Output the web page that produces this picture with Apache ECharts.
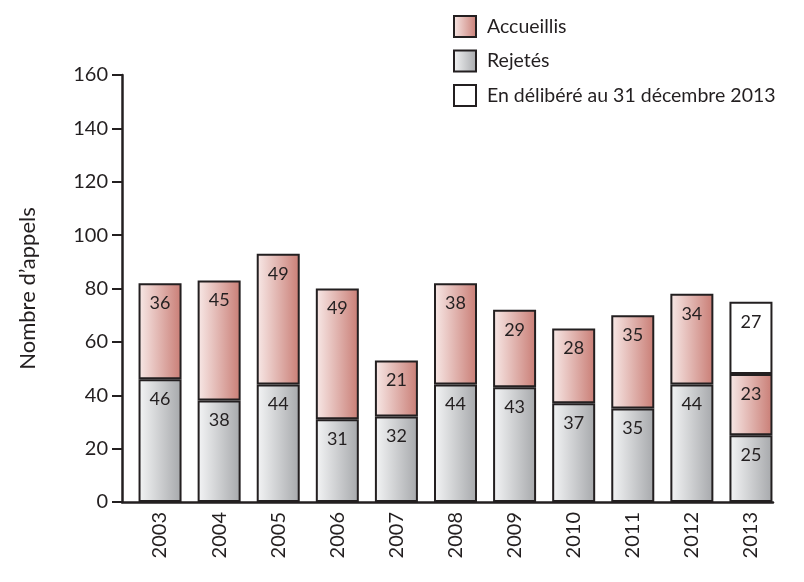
<!DOCTYPE html>
<html>
<head>
<meta charset="utf-8">
<script src="https://cdn.jsdelivr.net/npm/echarts@6/dist/echarts.min.js"></script>
<style>html,body{margin:0;padding:0;background:#fff}#c{width:804px;height:582px}</style>
</head>
<body>
<div id="c"></div>
<script>
const years = ['2003','2004','2005','2006','2007','2008','2009','2010','2011','2012','2013'];
const rejetes = [46, 38, 44, 31, 32, 44, 43, 37, 35, 44, 25];
const accueillis = [36, 45, 49, 49, 21, 38, 29, 28, 35, 34, 23];
const delibere = [null, null, null, null, null, null, null, null, null, null, 27];
const yTicks = { min: 0, max: 160, interval: 20 };

const FONT = 'Lato, "Open Sans", sans-serif';
const INK = '#231f20';
function grad(a, b) {
  return new echarts.graphic.LinearGradient(0, 0, 1, 0, [
    { offset: 0, color: a }, { offset: 1, color: b }
  ]);
}
const label = {
  show: true, position: 'insideTop', distance: 11,
  color: INK, fontSize: 18, fontFamily: FONT
};
const border = { borderColor: INK, borderWidth: 2 };

const chart = echarts.init(document.getElementById('c'), null, { renderer: 'canvas' });
chart.setOption({
  animation: false,
  backgroundColor: '#fff',
  legend: {
    orient: 'vertical', left: 448, top: 10,
    itemWidth: 22, itemHeight: 21, itemGap: 11.5,
    icon: 'rect',
    itemStyle: { borderColor: INK, borderWidth: 2 },
    textStyle: { fontSize: 19.5, color: INK, fontFamily: FONT, padding: [0, 0, 0, 6] },
    data: ['Accueillis', 'Rejetés', 'En délibéré au 31 décembre 2013']
  },
  grid: [
    { left: 130.5, right: 23.5, top: 75, bottom: 80 },
    { left: 122, right: 31, top: 75, bottom: 80 }
  ],
  xAxis: [
    {
      type: 'category', data: years, gridIndex: 0,
      axisLine: { show: false }, axisTick: { show: false },
      axisLabel: { rotate: 90, fontSize: 20, color: INK, fontFamily: FONT, margin: 10 }
    },
    {
      type: 'value', gridIndex: 1, min: 0, max: 1,
      axisLine: { show: true, lineStyle: { color: INK, width: 2.5 } },
      axisTick: { show: false }, axisLabel: { show: false }, splitLine: { show: false }
    }
  ],
  yAxis: [
    {
      type: 'value', gridIndex: 0, min: yTicks.min, max: yTicks.max, interval: yTicks.interval,
      offset: 8.5,
      name: 'Nombre d’appels', nameLocation: 'middle', nameRotate: 90, nameGap: 83,
      nameTextStyle: { fontSize: 22, color: INK, fontFamily: FONT },
      axisLine: { show: true, lineStyle: { color: INK, width: 2.5 } },
      axisTick: { show: true, length: 10, lineStyle: { color: INK, width: 2 } },
      axisLabel: { fontSize: 20, color: INK, fontFamily: FONT, margin: 14 },
      splitLine: { show: false }
    },
    { type: 'value', gridIndex: 1, show: false, min: 0, max: 1 }
  ],
  series: [
    {
      name: 'Rejetés', type: 'bar', stack: 'a', data: rejetes, barWidth: 43,
      itemStyle: Object.assign({ color: grad('#f4f5f6', '#a6a8ab') }, border),
      label: label
    },
    {
      name: 'Accueillis', type: 'bar', stack: 'a', data: accueillis, barWidth: 43,
      itemStyle: Object.assign({ color: grad('#f8e9e7', '#c97d75') }, border),
      label: label
    },
    {
      name: 'En délibéré au 31 décembre 2013', type: 'bar', stack: 'a', data: delibere, barWidth: 43,
      itemStyle: Object.assign({ color: '#ffffff' }, border),
      label: label
    }
  ]
});
</script>
</body>
</html>
